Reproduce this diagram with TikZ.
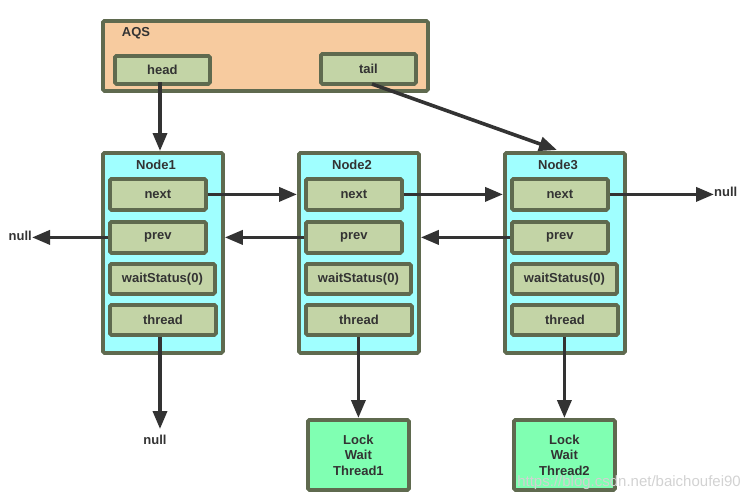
\documentclass[tikz,border=0pt]{standalone}
\usepackage{fontspec}
\setmainfont{Liberation Sans}
\usetikzlibrary{arrows.meta}
\definecolor{bd}{HTML}{5F6A4F}
\definecolor{aqsc}{HTML}{F7CB9F}
\definecolor{fieldc}{HTML}{C3D4A6}
\definecolor{nodec}{HTML}{A0FFFF}
\definecolor{lockc}{HTML}{80FFB2}
\definecolor{ink}{HTML}{333333}
\tikzset{
  box/.style={draw=bd, line width=3.8pt, rounded corners=1.5pt, inner sep=0pt, anchor=north west},
  outerbox/.style={box, fill=nodec, minimum width=120pt, minimum height=200pt},
  fieldbox/.style={box, fill=fieldc, minimum height=30pt},
  txt/.style={font=\bfseries\fontsize{13}{15.5}\selectfont, text=ink, inner sep=0pt},
  conn/.style={draw=ink, line width=3.6pt, -{Triangle[length=18pt,width=14pt]}},
  plain/.style={draw=ink, line width=3.6pt}
}
\begin{document}
\begin{tikzpicture}[x=1pt,y=-1pt]
\useasboundingbox (0,0) rectangle (750,499);
% AQS
\node[box, fill=aqsc, minimum width=325pt, minimum height=70pt] (aqs) at (101,19) {};
\node[txt] (aqslbl) at (136,33) {AQS};
\node[fieldbox, minimum width=95pt, minimum height=28pt] (head) at (113,54) {};
\node[txt] at (head.center) {head};
\node[fieldbox, minimum width=95pt] (tail) at (319,52) {};
\node[txt] at (tail.center) {tail};
% Nodes
\foreach \i/\x in {1/101,2/297,3/503}{
  \node[outerbox] (n\i) at (\x,151) {};
  \node[txt] (n\i lbl) at (\x+55,165) {Node\i};
  \node[fieldbox, minimum width=96pt, minimum height=31pt] (n\i next) at (\x+7,177) {};
  \node[txt] at (n\i next.center) {next};
  \node[fieldbox, minimum width=96pt, minimum height=31pt] (n\i prev) at (\x+7,220) {};
  \node[txt] at (n\i prev.center) {prev};
  \node[fieldbox, minimum width=105pt] (n\i ws) at (\x+7,262) {};
  \node[txt] at (n\i ws.center) {waitStatus(0)};
  \node[fieldbox, minimum width=106pt] (n\i th) at (\x+7,303) {};
  \node[txt] at (n\i th.center) {thread};
}
% Lock boxes
\node[box, fill=lockc, minimum width=101pt, minimum height=70pt] (l1) at (306,418) {};
\node[txt, align=center] at (l1.center) {Lock\\Wait\\Thread1};
\node[box, fill=lockc, minimum width=101pt, minimum height=70pt] (l2) at (512,418) {};
\node[txt, align=center] at (l2.center) {Lock\\Wait\\Thread2};
% null labels
\node[txt, anchor=west] (nullR) at (714,192) {null};
\node[txt, anchor=east] (nullL) at (32,236) {null};
\node[txt] (nullB) at (155,440) {null};
% connectors
\draw[conn] (160,82) -- (160,151);
\draw[conn] (372,84) -- (557,150);
\draw[conn] (n1next.east) -- (n1next.east -| n2.west);
\draw[conn] (n2next.east) -- (n2next.east -| n3.west);
\draw[conn] (n3next.east) -- (n3next.east -| nullR.west);
\draw[conn] (n2prev.west) -- (n2prev.west -| n1.east);
\draw[conn] (n3prev.west) -- (n3prev.west -| n2.east);
\draw[conn] (n1prev.west) -- (n1prev.west -| nullL.east);
\draw[conn] (n1th.south -| nullB) ++(5,0) coordinate (t1) -- (t1 |- 0,429);
\draw[conn] (n2th.south -| l1.north) -- (l1.north);
\draw[conn] (n3th.south -| l2.north) -- (l2.north);
% watermark
\node[font=\fontsize{15}{18}\selectfont, text=gray!35, anchor=south east, inner sep=0pt] (wm) at (741,490) {https://blog.csdn.net/baichoufei90};
\end{tikzpicture}
\end{document}
